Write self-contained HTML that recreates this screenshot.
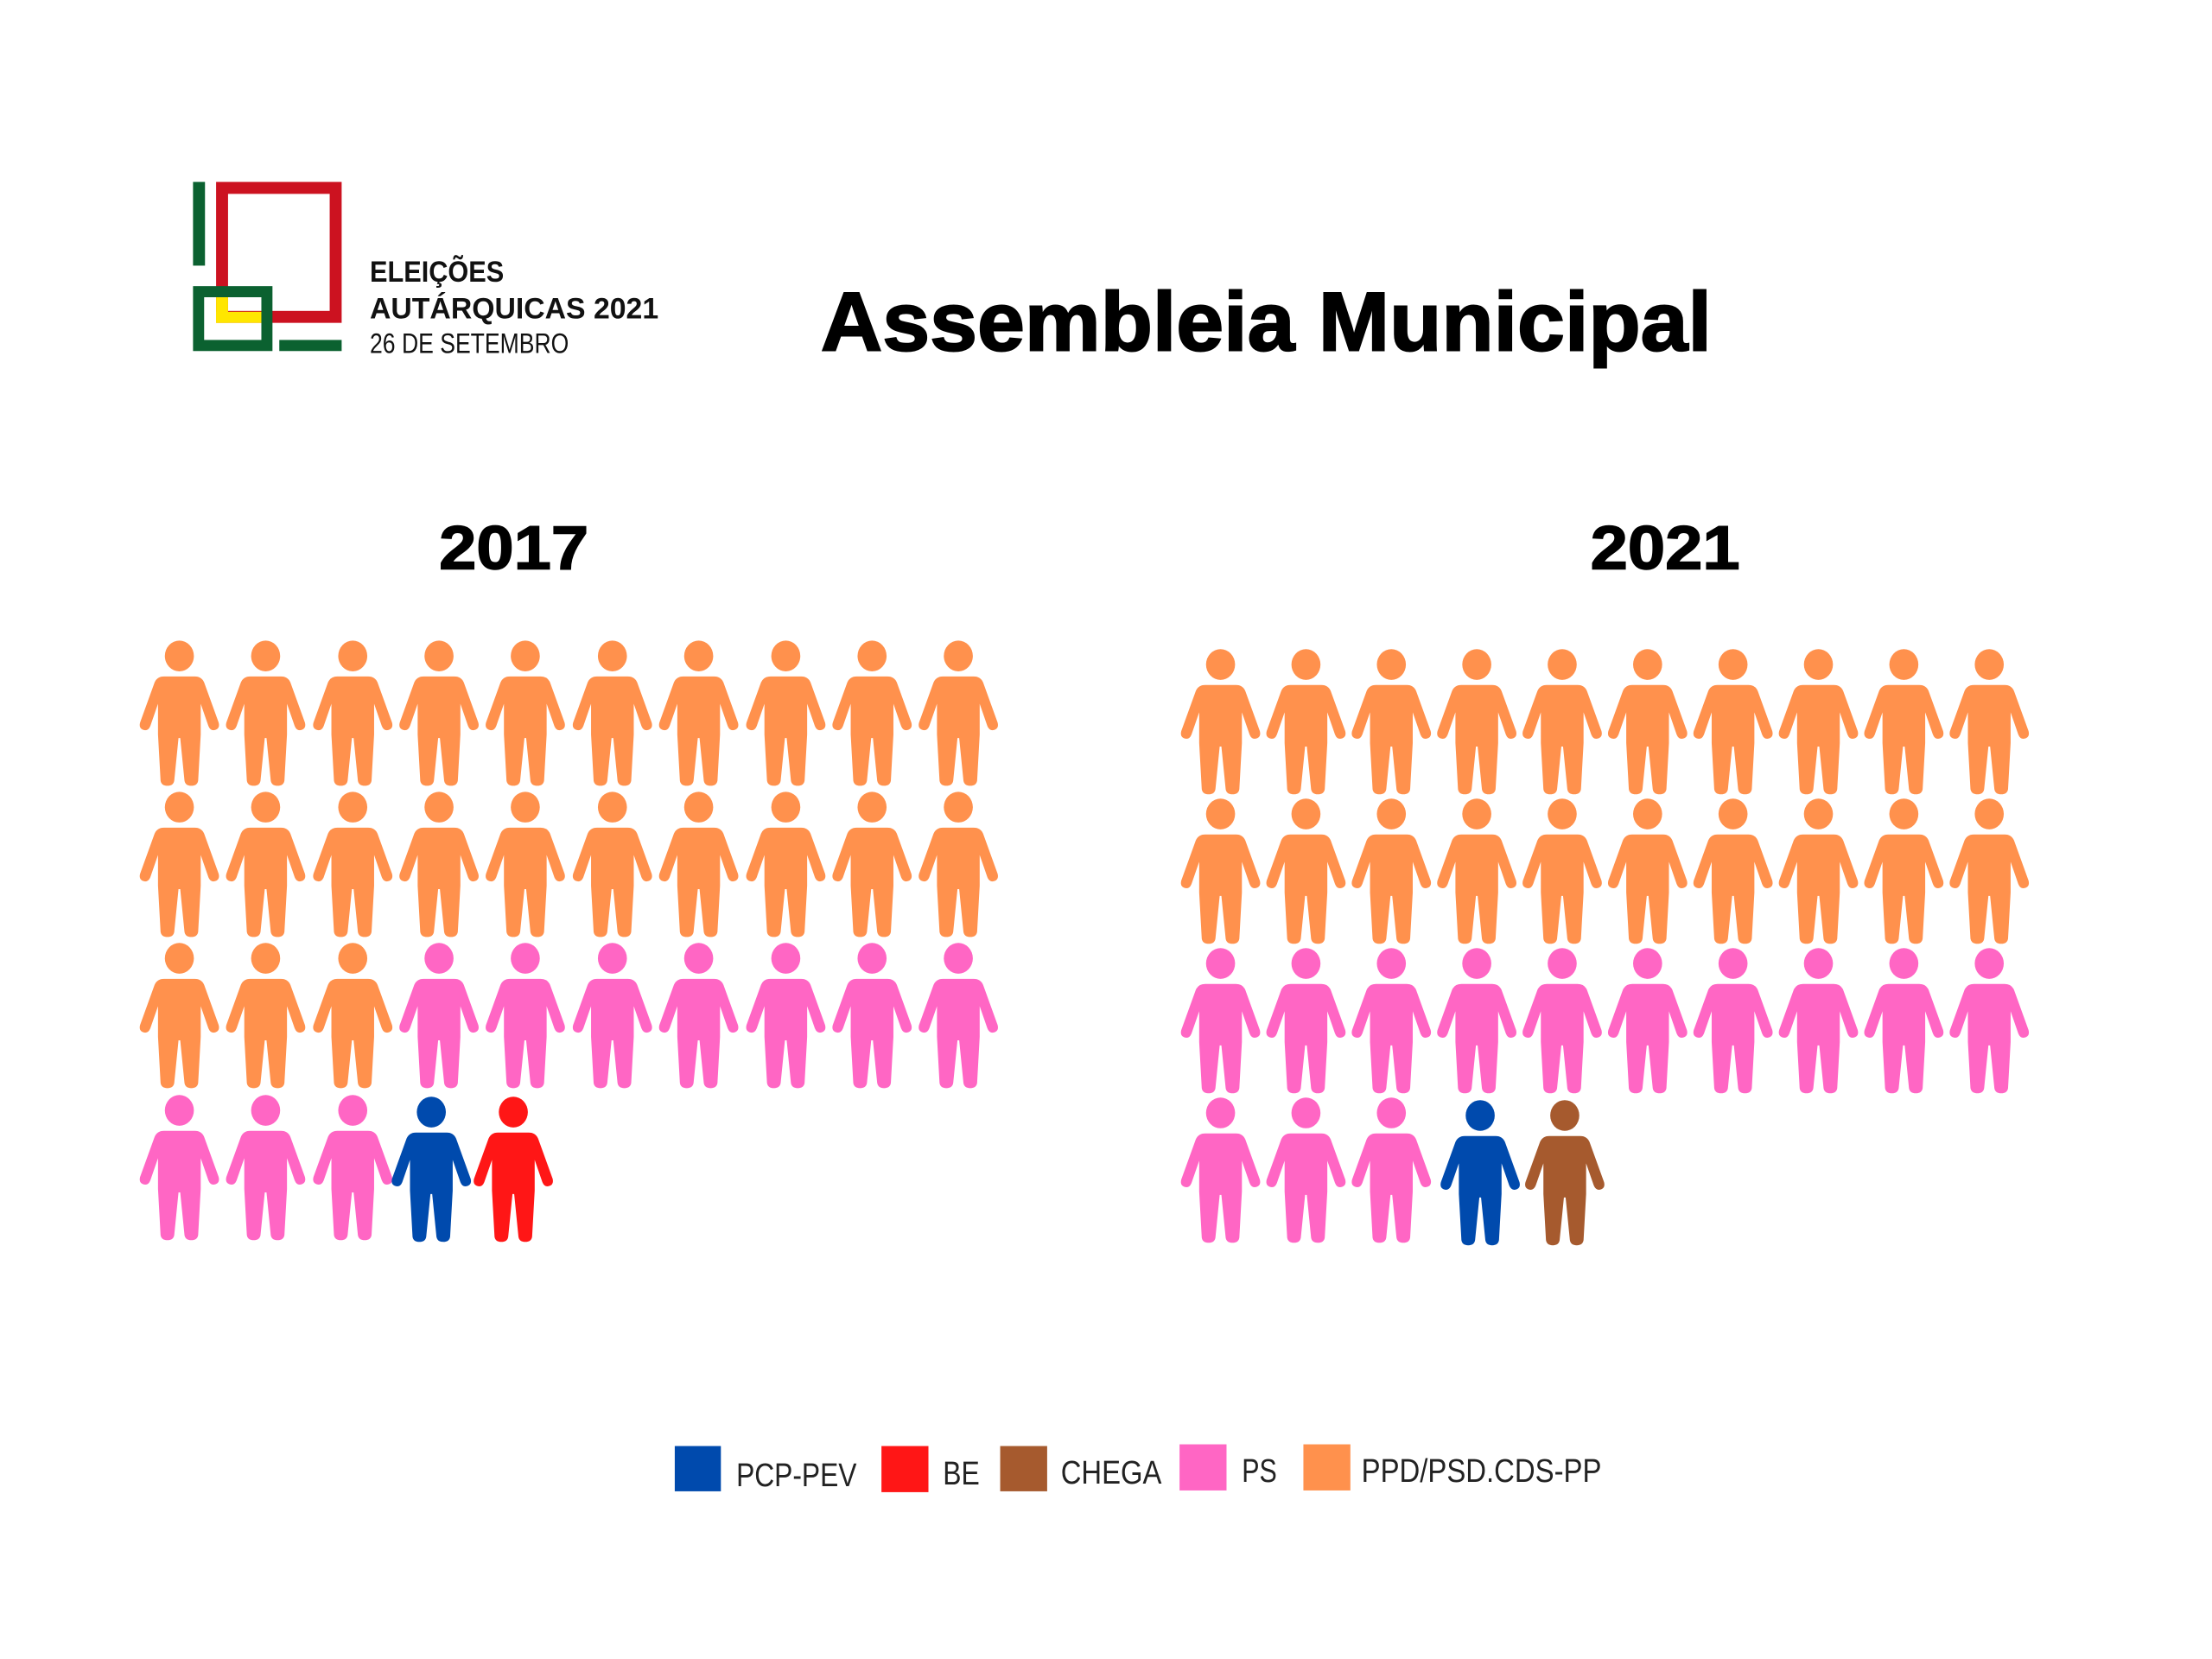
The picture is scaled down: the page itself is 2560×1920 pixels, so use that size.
<!DOCTYPE html>
<html><head><meta charset="utf-8"><style>html,body{margin:0;padding:0;background:#fff}svg{display:block}</style></head>
<body>
<svg width="2560" height="1920" viewBox="0 0 2560 1920" xmlns="http://www.w3.org/2000/svg">
<defs>
<g id="p">
<ellipse cx="0" cy="0" rx="17" ry="18"/>
<path d="M-18,24 L18,24 Q26,24 29,31 L46,78 Q48,86 40,87 Q36,87 34,82 L25,56 L25,92 L22,146 Q21,152 14,152 Q7,152 6,146 L1,96 L-1,96 L-6,146 Q-7,152 -14,152 Q-21,152 -22,146 L-25,92 L-25,56 L-34,82 Q-36,87 -40,87 Q-48,86 -46,78 L-29,31 Q-26,24 -18,24 Z"/>
</g>
</defs>
<rect width="2560" height="1920" fill="#fff"/>
<g transform="scale(0.9885)">
<!-- logo -->
<rect x="226" y="213" width="14" height="98" fill="#0b6130"/>
<rect x="260" y="220" width="133" height="151" fill="none" stroke="#cc1220" stroke-width="14"/>
<rect x="253" y="348" width="14" height="30" fill="#ffe600"/>
<rect x="253" y="365" width="60" height="13" fill="#ffe600"/>
<rect x="232.5" y="341.5" width="80" height="63" fill="none" stroke="#0b6130" stroke-width="13"/>
<rect x="327" y="398" width="73" height="13" fill="#0b6130"/>
<g font-family="Liberation Sans, DejaVu Sans, sans-serif" fill="#111">
<text x="433" y="330" font-size="35" font-weight="bold" textLength="157" lengthAdjust="spacingAndGlyphs">ELEIÇÕES</text>
<text x="433" y="373" font-size="35" font-weight="bold" textLength="338" lengthAdjust="spacingAndGlyphs">AUTÁRQUICAS 2021</text>
<text x="433" y="413" font-size="33" textLength="233" lengthAdjust="spacingAndGlyphs">26 DE SETEMBRO</text>
<text x="961" y="410" font-size="98" font-weight="bold" fill="#000" stroke="#000" stroke-width="2" textLength="1043" lengthAdjust="spacingAndGlyphs">Assembleia Municipal</text>
<text x="514" y="666" font-size="72" font-weight="bold" fill="#000" stroke="#000" stroke-width="1.5" textLength="175" lengthAdjust="spacingAndGlyphs">2017</text>
<text x="1862" y="666" font-size="72" font-weight="bold" fill="#000" stroke="#000" stroke-width="1.5" textLength="175" lengthAdjust="spacingAndGlyphs">2021</text>
</g>
<!-- 2017 -->
<g transform="translate(0,8)">
<g fill="#FF914D">
<use href="#p" x="210" y="760"/><use href="#p" x="311" y="760"/><use href="#p" x="413" y="760"/><use href="#p" x="514" y="760"/><use href="#p" x="615" y="760"/><use href="#p" x="717" y="760"/><use href="#p" x="818" y="760"/><use href="#p" x="920" y="760"/><use href="#p" x="1021" y="760"/><use href="#p" x="1122" y="760"/>
<use href="#p" x="210" y="937"/><use href="#p" x="311" y="937"/><use href="#p" x="413" y="937"/><use href="#p" x="514" y="937"/><use href="#p" x="615" y="937"/><use href="#p" x="717" y="937"/><use href="#p" x="818" y="937"/><use href="#p" x="920" y="937"/><use href="#p" x="1021" y="937"/><use href="#p" x="1122" y="937"/>
<use href="#p" x="210" y="1114"/><use href="#p" x="311" y="1114"/><use href="#p" x="413" y="1114"/>
</g>
<g fill="#FF66C4">
<use href="#p" x="514" y="1114"/><use href="#p" x="615" y="1114"/><use href="#p" x="717" y="1114"/><use href="#p" x="818" y="1114"/><use href="#p" x="920" y="1114"/><use href="#p" x="1021" y="1114"/><use href="#p" x="1122" y="1114"/>
<use href="#p" x="210" y="1292"/><use href="#p" x="311" y="1292"/><use href="#p" x="413" y="1292"/>
</g>
<use href="#p" x="505" y="1294" fill="#004AAD"/>
<use href="#p" x="601" y="1294" fill="#FF1616"/>
</g>
<!-- 2021 -->
<g fill="#FF914D">
<use href="#p" x="1429" y="778"/><use href="#p" x="1529" y="778"/><use href="#p" x="1629" y="778"/><use href="#p" x="1729" y="778"/><use href="#p" x="1829" y="778"/><use href="#p" x="1929" y="778"/><use href="#p" x="2029" y="778"/><use href="#p" x="2129" y="778"/><use href="#p" x="2229" y="778"/><use href="#p" x="2329" y="778"/>
<use href="#p" x="1429" y="953"/><use href="#p" x="1529" y="953"/><use href="#p" x="1629" y="953"/><use href="#p" x="1729" y="953"/><use href="#p" x="1829" y="953"/><use href="#p" x="1929" y="953"/><use href="#p" x="2029" y="953"/><use href="#p" x="2129" y="953"/><use href="#p" x="2229" y="953"/><use href="#p" x="2329" y="953"/>
</g>
<g fill="#FF66C4">
<use href="#p" x="1429" y="1128"/><use href="#p" x="1529" y="1128"/><use href="#p" x="1629" y="1128"/><use href="#p" x="1729" y="1128"/><use href="#p" x="1829" y="1128"/><use href="#p" x="1929" y="1128"/><use href="#p" x="2029" y="1128"/><use href="#p" x="2129" y="1128"/><use href="#p" x="2229" y="1128"/><use href="#p" x="2329" y="1128"/>
<use href="#p" x="1429" y="1303"/><use href="#p" x="1529" y="1303"/><use href="#p" x="1629" y="1303"/>
</g>
<use href="#p" x="1733" y="1306" fill="#004AAD"/>
<use href="#p" x="1832" y="1306" fill="#A65A2E"/>
<!-- legend -->
<rect x="790" y="1693" width="54" height="53" fill="#004AAD"/>
<rect x="1032" y="1693" width="55" height="54" fill="#FF1616"/>
<rect x="1171" y="1693" width="55" height="53" fill="#A65A2E"/>
<rect x="1381" y="1691" width="55" height="54" fill="#FF66C4"/>
<rect x="1526" y="1691" width="55" height="54" fill="#FF914D"/>
<g font-family="Liberation Sans, DejaVu Sans, sans-serif" font-size="38" fill="#222">
<text x="862" y="1740" textLength="141" lengthAdjust="spacingAndGlyphs">PCP-PEV</text>
<text x="1104" y="1738" textLength="43" lengthAdjust="spacingAndGlyphs">BE</text>
<text x="1242" y="1737" textLength="118" lengthAdjust="spacingAndGlyphs">CHEGA</text>
<text x="1454" y="1735" textLength="41" lengthAdjust="spacingAndGlyphs">PS</text>
<text x="1594" y="1735" textLength="281" lengthAdjust="spacingAndGlyphs">PPD/PSD.CDS-PP</text>
</g>
</g>
</svg>
</body></html>
